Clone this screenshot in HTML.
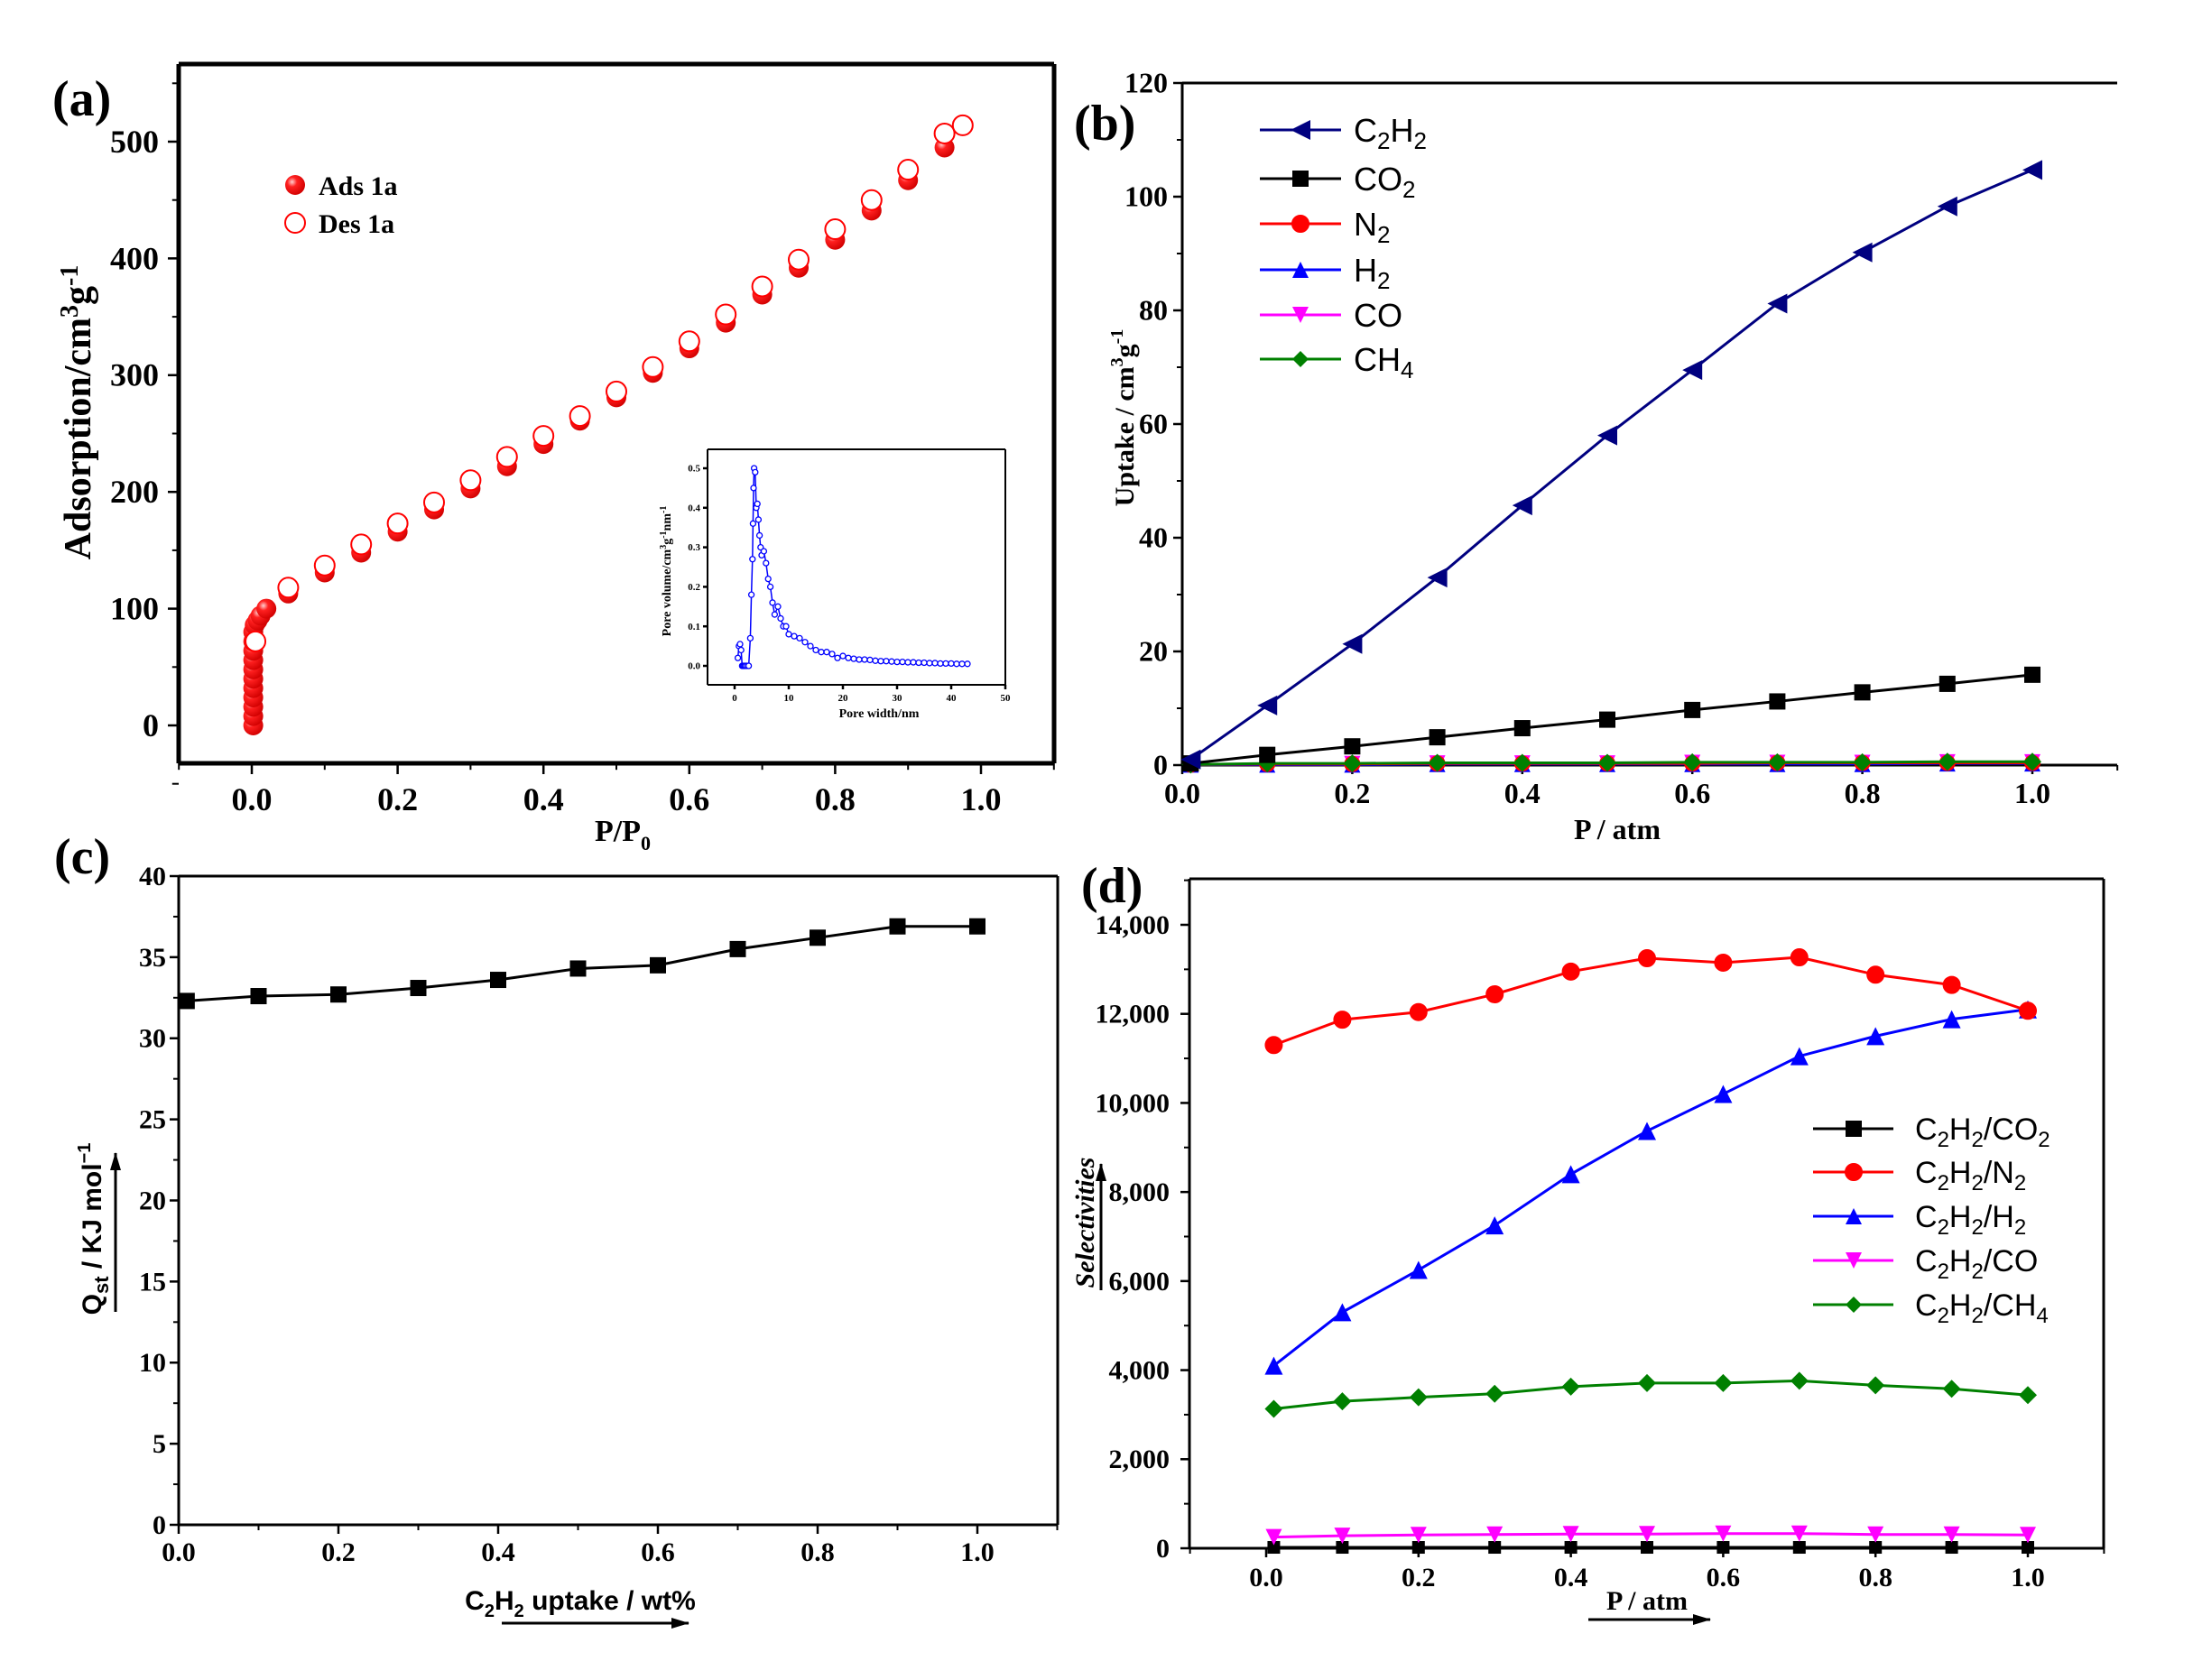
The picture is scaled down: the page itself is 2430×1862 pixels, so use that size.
<!DOCTYPE html>
<html><head><meta charset="utf-8"><style>
html,body{margin:0;padding:0;background:#fff}
svg{display:block}
.tk{font-family:"Liberation Serif",serif;font-weight:bold;font-size:35px}
.ti{font-family:"Liberation Serif",serif;font-weight:bold;font-size:34px}
.sans{font-family:"Liberation Sans",sans-serif}
</style></head><body>
<svg id="fig" width="2430" height="1862" viewBox="0 0 2430 1862" xmlns="http://www.w3.org/2000/svg">
<defs>
<radialGradient id="ball" cx="0.35" cy="0.35" r="0.7"><stop offset="0" stop-color="#ffd0d0"/><stop offset="0.35" stop-color="#ff2020"/><stop offset="1" stop-color="#d00000"/></radialGradient>
<marker id="arr" markerUnits="userSpaceOnUse" markerWidth="20" markerHeight="12" refX="19" refY="6" orient="auto"><path d="M0,0 L20,6 L0,12 z" fill="#000"/></marker>
</defs>
<g id="pa"></g>
<g id="pb"></g>
<g id="pc"></g>
<g id="pd"></g>
</svg>
<script>
// ---- Panel a data
const aAdsP=[0.002,0.002,0.002,0.002,0.002,0.002,0.002,0.002,0.002,0.002,0.002,0.004,0.008,0.012,0.02,0.05,0.1,0.15,0.2,0.25,0.3,0.35,0.4,0.45,0.5,0.55,0.6,0.65,0.7,0.75,0.8,0.85,0.9,0.95];
const aAdsV=[0,8,16,24,32,40,48,56,64,72,80,86,90,94,100,113,131,148,166,185,203,222,241,261,281,302,323,345,369,392,416,441,467,495];
const aDesP=[0.005,0.05,0.1,0.15,0.2,0.25,0.3,0.35,0.4,0.45,0.5,0.55,0.6,0.65,0.7,0.75,0.8,0.85,0.9,0.95,0.975];
const aDesV=[72,118,137,155,173,191,210,230,248,265,286,307,329,352,376,399,425,450,476,507,514];
const aXTicks=["0.0","0.2","0.4","0.6","0.8","1.0"];
const aYTicks=["0","100","200","300","400","500"];
// inset
const inW=[0.6,0.8,1.0,1.2,1.4,1.6,1.8,2.0,2.3,2.6,2.9,3.1,3.3,3.4,3.5,3.6,3.8,4.0,4.2,4.4,4.6,4.8,5.0,5.4,5.8,6.2,6.6,7.0,7.4,8.0,8.5,9.0,9.5,10,11,12,13,14,15,16,17,18,19,20,21,22,23,24,25,26,27,28,29,30,31,32,33,34,35,36,37,38,39,40,41,42,43];
const inV=[0.02,0.05,0.055,0.04,0.0,0.0,0.0,0.0,0.0,0.0,0.07,0.18,0.27,0.36,0.45,0.5,0.49,0.4,0.41,0.37,0.33,0.3,0.28,0.29,0.26,0.22,0.2,0.16,0.13,0.15,0.12,0.1,0.1,0.08,0.075,0.07,0.06,0.05,0.04,0.035,0.035,0.03,0.02,0.025,0.02,0.018,0.016,0.016,0.015,0.013,0.012,0.012,0.011,0.01,0.01,0.009,0.009,0.008,0.008,0.007,0.007,0.006,0.006,0.006,0.005,0.005,0.005];
const inXTicks=["0","10","20","30","40","50"];
const inYTicks=["0.0","0.1","0.2","0.3","0.4","0.5"];
// ---- Panel b data
const bP=[0.01,0.1,0.2,0.3,0.4,0.5,0.6,0.7,0.8,0.9,1.0];
const bC2H2=[1,10.5,21.3,33,45.7,58,69.5,81.2,90.2,98.3,104.7];
const bCO2=[0.3,1.8,3.3,4.9,6.5,8,9.7,11.2,12.8,14.3,15.9];
const bN2=[0.1,0.2,0.2,0.3,0.3,0.3,0.3,0.4,0.4,0.4,0.4];
const bH2=[0.1,0.1,0.1,0.2,0.2,0.2,0.2,0.2,0.2,0.3,0.3];
const bCO=[0.1,0.2,0.2,0.3,0.3,0.3,0.4,0.4,0.4,0.5,0.5];
const bCH4=[0.1,0.3,0.3,0.4,0.4,0.4,0.5,0.5,0.5,0.6,0.6];
const bXTicks=["0.0","0.2","0.4","0.6","0.8","1.0"];
const bYTicks=["0","20","40","60","80","100","120"];
// ---- Panel c data
const cX=[0.01,0.1,0.2,0.3,0.4,0.5,0.6,0.7,0.8,0.9,1.0];
const cQ=[32.3,32.6,32.7,33.1,33.6,34.3,34.5,35.5,36.2,36.9,36.9];
const cXTicks=["0.0","0.2","0.4","0.6","0.8","1.0"];
const cYTicks=["0","5","10","15","20","25","30","35","40"];
// ---- Panel d data
const dP=[0.01,0.1,0.2,0.3,0.4,0.5,0.6,0.7,0.8,0.9,1.0];
const dCO2=[20,20,20,20,20,20,20,20,20,20,20];
const dN2=[11300,11870,12040,12440,12950,13250,13150,13270,12880,12650,12070];
const dH2=[4100,5300,6250,7250,8400,9370,10200,11050,11500,11880,12100];
const dCO=[250,280,300,310,320,320,330,330,310,310,300];
const dCH4=[3130,3300,3390,3470,3630,3710,3710,3760,3660,3580,3440];
const dXTicks=["0.0","0.2","0.4","0.6","0.8","1.0"];
const dYTicks=["0","2,000","4,000","6,000","8,000","10,000","12,000","14,000"];

const NS="http://www.w3.org/2000/svg";
function el(tag,attrs,parent){const e=document.createElementNS(NS,tag);for(const k in attrs)e.setAttribute(k,attrs[k]);parent.appendChild(e);return e;}
function lin(d0,d1,r0,r1){return v=>r0+(v-d0)*(r1-r0)/(d1-d0);}
function txt(parent,x,y,s,cls,anchor,extra){const t=el('text',Object.assign({x:x,y:y,'text-anchor':anchor||'middle'},extra||{}),parent);if(cls)t.setAttribute('class',cls);t.innerHTML=s;return t;}
function marker(g,type,x,y,s,fill,stroke){
  let e;
  if(type==='circle')e=el('circle',{cx:x,cy:y,r:s/2,fill:fill,stroke:stroke||fill,'stroke-width':2},g);
  else if(type==='square')e=el('rect',{x:x-s/2,y:y-s/2,width:s,height:s,fill:fill},g);
  else if(type==='tri')e=el('polygon',{points:`${x},${y-s/2} ${x+s/2},${y+s/2} ${x-s/2},${y+s/2}`,fill:fill},g);
  else if(type==='tridown')e=el('polygon',{points:`${x},${y+s/2} ${x+s/2},${y-s/2} ${x-s/2},${y-s/2}`,fill:fill},g);
  else if(type==='left')e=el('polygon',{points:`${x-s/2},${y} ${x+s/2},${y-s/2} ${x+s/2},${y+s/2}`,fill:fill},g);
  else if(type==='diamond')e=el('polygon',{points:`${x},${y-s/2} ${x+s/2},${y} ${x},${y+s/2} ${x-s/2},${y}`,fill:fill},g);
  return e;
}
function series(g,name,xs,ys,sx,sy,color,mtype,ms,line){
  const sg=el('g',{},g);
  
  
  if(line){const pts=xs.map((x,i)=>sx(x)+','+sy(ys[i])).join(' ');
    const pl=el('polyline',{points:pts,fill:'none',stroke:color,'stroke-width':3},sg);
    
    }
  xs.forEach((x,i)=>{const m=marker(sg,mtype,sx(x),sy(ys[i]),ms,color);
    
    });
}
function axes(g,o){
  const fr=el('g',{stroke:'#000','stroke-width':o.bw||3,fill:'none'},g);
  
  
  el('line',{x1:o.L,y1:o.B,x2:o.R,y2:o.B},fr);
  el('line',{x1:o.L,y1:o.B,x2:o.L,y2:o.T},fr);
  el('line',{x1:o.L,y1:o.T,x2:o.R,y2:o.T},fr);
  if(o.right)el('line',{x1:o.R,y1:o.T,x2:o.R,y2:o.B},fr);
  const xt=el('g',{},g);
  
  
  o.xticks.forEach((v,i)=>{const x=o.sx(o.xv[i]);el('line',{x1:x,y1:o.B,x2:x,y2:o.B+o.tl,stroke:'#000','stroke-width':2.5},xt);
    txt(xt,x,o.B+o.xlo,v,'tk','middle',{style:'font-size:'+o.fs+'px'});});
  (o.xminor||[]).forEach(v=>{const x=o.sx(v);el('line',{x1:x,y1:o.B,x2:x,y2:o.B+o.tl*0.6,stroke:'#000','stroke-width':2},xt);});
  const yt=el('g',{},g);
  
  
  o.yticks.forEach((v,i)=>{const y=o.sy(o.yv[i]);el('line',{x1:o.L,y1:y,x2:o.L-o.tl,y2:y,stroke:'#000','stroke-width':2.5},yt);
    txt(yt,o.L-o.ylo,y+o.fs*0.33,v,'tk','end',{style:'font-size:'+o.fs+'px'});});
  (o.yminor||[]).forEach(v=>{const y=o.sy(v);el('line',{x1:o.L,y1:y,x2:o.L-o.tl*0.6,y2:y,stroke:'#000','stroke-width':2},yt);});
}
function range(a,b,s){const r=[];for(let v=a;v<=b+1e-9;v+=s)r.push(+v.toFixed(4));return r;}

// ================= Panel a
(function(){
const g=document.getElementById('pa');
const L=198,R=1168,T=71,B=846;
const sx=lin(0,1,279,1087), sy=lin(0,500,804,157);
axes(g,{L,R,T,B,sx,sy,right:true,bw:5,tl:12,fs:36,xlo:52,ylo:22,
  xticks:aXTicks,xv:[0,0.2,0.4,0.6,0.8,1.0],xminor:range(-0.1,1.1,0.1),
  yticks:aYTicks,yv:[0,100,200,300,400,500],yminor:range(-50,550,50)});
const lab=txt(g,58,128,'(a)','ti','start',{style:'font-size:56px'});


const xt=txt(g,690,932,'P/P<tspan dy="10" style="font-size:22px">0</tspan>','ti','middle');


const yt=txt(g,0,0,'Adsorption/cm<tspan dy="-14" style="font-size:28px">3</tspan><tspan dy="14">g</tspan><tspan dy="-14" style="font-size:28px">-1</tspan>','ti','middle',{transform:'translate(100,457) rotate(-90)',style:'font-size:42px'});


const ag=el('g',{},g);


aAdsP.forEach((p,i)=>{const c=el('circle',{cx:sx(p),cy:sy(aAdsV[i]),r:11,fill:'url(#ball)'},ag);
  
  });
const dg=el('g',{},g);


aDesP.forEach((p,i)=>{const c=el('circle',{cx:sx(p),cy:sy(aDesV[i]),r:11,fill:'#fff',stroke:'#ff0000','stroke-width':2},dg);
  
  });
const lg=el('g',{},g);


el('circle',{cx:327,cy:205,r:11,fill:'url(#ball)'},lg);
txt(lg,353,216,'Ads 1a','ti','start',{style:'font-size:30px'});
el('circle',{cx:327,cy:247,r:11,fill:'#fff',stroke:'#f00','stroke-width':2},lg);
txt(lg,353,258,'Des 1a','ti','start',{style:'font-size:30px'});
const ig=el('g',{},g);


const iL=784,iR=1114,iT=498,iB=759;
const isx=lin(0,50,814,1114), isy=lin(0,0.5,738,519);
axes(ig,{L:iL,R:iR,T:iT,B:iB,sx:isx,sy:isy,right:true,bw:2,tl:5,fs:11,xlo:18,ylo:8,
  xticks:inXTicks,xv:[0,10,20,30,40,50],yticks:inYTicks,yv:[0,0.1,0.2,0.3,0.4,0.5]});
const ipts=inW.map((w,i)=>isx(w)+','+isy(inV[i])).join(' ');
el('polyline',{points:ipts,fill:'none',stroke:'#0000ff','stroke-width':1.5},ig);
inW.forEach((w,i)=>{const c=el('circle',{cx:isx(w),cy:isy(inV[i]),r:3,fill:'#fff',stroke:'#0000ff','stroke-width':1.3},ig);
  
  });
txt(ig,974,795,'Pore width/nm','ti','middle',{style:'font-size:14px'});
txt(ig,0,0,'Pore volume/cm<tspan dy="-5" style="font-size:10px">3</tspan><tspan dy="5">g</tspan><tspan dy="-5" style="font-size:10px">-1</tspan><tspan dy="5">nm</tspan><tspan dy="-5" style="font-size:10px">-1</tspan>','ti','middle',{transform:'translate(743,633) rotate(-90)',style:'font-size:14px'});
})();

// ================= Panel b
(function(){
const g=document.getElementById('pb');
const L=1310,R=2346,T=92,B=848;
const sx=lin(0,1,1310,2252), sy=lin(0,120,848,92);
axes(g,{L,R,T,B,sx,sy,right:false,bw:3,tl:10,fs:32,xlo:42,ylo:16,
  xticks:bXTicks,xv:[0,0.2,0.4,0.6,0.8,1.0],xminor:range(0.1,1.1,0.2),
  yticks:bYTicks,yv:[0,20,40,60,80,100,120],yminor:range(10,110,20)});
const lab=txt(g,1190,155,'(b)','ti','start',{style:'font-size:56px'});


const xt=txt(g,1792,930,'P / atm','ti','middle',{style:'font-size:32px'});


const yt=txt(g,0,0,'Uptake / cm<tspan dy="-12" style="font-size:20px">3</tspan><tspan dy="12">g</tspan><tspan dy="-12" style="font-size:20px">-1</tspan>','ti','middle',{transform:'translate(1256,463) rotate(-90)',style:'font-size:30px'});


series(g,'co-series',bP,bCO,sx,sy,'#ff00ff','tridown',18,true);
series(g,'h2-series',bP,bH2,sx,sy,'#0000ff','tri',18,true);
series(g,'n2-series',bP,bN2,sx,sy,'#ff0000','circle',16,true);
series(g,'ch4-series',bP,bCH4,sx,sy,'#008000','diamond',20,true);
series(g,'co2-series',bP,bCO2,sx,sy,'#000000','square',18,true);
series(g,'c2h2-series',bP,bC2H2,sx,sy,'#000080','left',22,true);
const lg=el('g',{},g);


const ent=[['C<tspan dy="8" style="font-size:26px">2</tspan><tspan dy="-8">H</tspan><tspan dy="8" style="font-size:26px">2</tspan>','#000080','left',144],
 ['CO<tspan dy="8" style="font-size:26px">2</tspan>','#000','square',198],
 ['N<tspan dy="8" style="font-size:26px">2</tspan>','#f00','circle',248],
 ['H<tspan dy="8" style="font-size:26px">2</tspan>','#00f','tri',299],
 ['CO','#f0f','tridown',349],
 ['CH<tspan dy="8" style="font-size:26px">4</tspan>','#008000','diamond',398]];
ent.forEach(e=>{const eg=el('g',{},lg);
  
  
  el('line',{x1:1396,y1:e[3],x2:1486,y2:e[3],stroke:e[1],'stroke-width':3},eg);
  marker(eg,e[2],1441,e[3],e[2]==='left'?22:18,e[1]);
  txt(eg,1500,e[3]+13,e[0],'sans','start',{style:'font-size:36px'});});
})();

// ================= Panel c
(function(){
const g=document.getElementById('pc');
const L=198,R=1172,T=971,B=1690;
const sx=lin(0,1,198,1083), sy=lin(0,40,1690,971);
axes(g,{L,R,T,B,sx,sy,right:true,bw:3,tl:10,fs:30,xlo:40,ylo:14,
  xticks:cXTicks,xv:[0,0.2,0.4,0.6,0.8,1.0],xminor:range(0.1,1.1,0.2),
  yticks:cYTicks,yv:[0,5,10,15,20,25,30,35,40],yminor:range(2.5,37.5,5)});
const lab=txt(g,60,968,'(c)','ti','start',{style:'font-size:56px'});


const xt=txt(g,643,1784,'C<tspan dy="8" style="font-size:20px">2</tspan><tspan dy="-8">H</tspan><tspan dy="8" style="font-size:20px">2</tspan><tspan dy="-8"> uptake / wt%</tspan>','sans','middle',{style:'font-size:30px;font-weight:bold'});


el('line',{x1:556,y1:1799,x2:763,y2:1799,stroke:'#000','stroke-width':3,'marker-end':'url(#arr)'},g);
const yt=txt(g,0,0,'Q<tspan dy="8" style="font-size:22px">st</tspan><tspan dy="-8"> / KJ mol</tspan><tspan dy="-12" style="font-size:20px">−1</tspan>','sans','middle',{transform:'translate(112,1362) rotate(-90)',style:'font-size:30px;font-weight:bold'});


el('line',{x1:128,y1:1454,x2:128,y2:1278,stroke:'#000','stroke-width':3,'marker-end':'url(#arr)'},g);
series(g,'qst-series',cX,cQ,sx,sy,'#000','square',18,true);
})();

// ================= Panel d
(function(){
const g=document.getElementById('pd');
const L=1318,R=2331,T=974,B=1716;
const sx=lin(0,1,1403,2247), sy=lin(0,14000,1716,1025);
axes(g,{L,R,T,B,sx,sy,right:true,bw:3,tl:10,fs:30,xlo:42,ylo:22,
  xticks:dXTicks,xv:[0,0.2,0.4,0.6,0.8,1.0],xminor:range(0.1,0.9,0.2).concat([-0.1,1.1]),
  yticks:dYTicks,yv:[0,2000,4000,6000,8000,10000,12000,14000],yminor:range(1000,15000,2000)});
const lab=txt(g,1198,1000,'(d)','ti','start',{style:'font-size:56px'});


const xt=txt(g,1825,1784,'P / atm','ti','middle',{style:'font-size:30px'});


el('line',{x1:1760,y1:1795,x2:1895,y2:1795,stroke:'#000','stroke-width':3,'marker-end':'url(#arr)'},g);
const yt=txt(g,0,0,'Selectivities','ti','middle',{transform:'translate(1212,1355) rotate(-90)',style:'font-size:30px;font-style:italic'});


el('line',{x1:1220,y1:1430,x2:1220,y2:1290,stroke:'#000','stroke-width':3,'marker-end':'url(#arr)'},g);
series(g,'c2h2-ch4-series',dP,dCH4,sx,sy,'#008000','diamond',20,true);
series(g,'c2h2-h2-series',dP,dH2,sx,sy,'#0000ff','tri',20,true);
series(g,'c2h2-n2-series',dP,dN2,sx,sy,'#ff0000','circle',18,true);
series(g,'c2h2-co2-series',dP,dCO2,sx,sy,'#000','square',14,true);
series(g,'c2h2-co-series',dP,dCO,sx,sy,'#ff00ff','tridown',18,true);
const lg=el('g',{},g);


const C='C<tspan dy="8" style="font-size:24px">2</tspan><tspan dy="-8">H</tspan><tspan dy="8" style="font-size:24px">2</tspan><tspan dy="-8">/</tspan>';
const ent=[[C+'CO<tspan dy="8" style="font-size:24px">2</tspan>','#000','square',1251],
 [C+'N<tspan dy="8" style="font-size:24px">2</tspan>','#f00','circle',1299],
 [C+'H<tspan dy="8" style="font-size:24px">2</tspan>','#00f','tri',1348],
 [C+'CO','#f0f','tridown',1397],
 [C+'CH<tspan dy="8" style="font-size:24px">4</tspan>','#008000','diamond',1446]];
ent.forEach(e=>{const eg=el('g',{},lg);
  
  
  el('line',{x1:2009,y1:e[3],x2:2098,y2:e[3],stroke:e[1],'stroke-width':3},eg);
  marker(eg,e[2],2054,e[3],18,e[1]);
  txt(eg,2122,e[3]+12,e[0],'sans','start',{style:'font-size:34px'});});
})();
</script>
</body></html>
